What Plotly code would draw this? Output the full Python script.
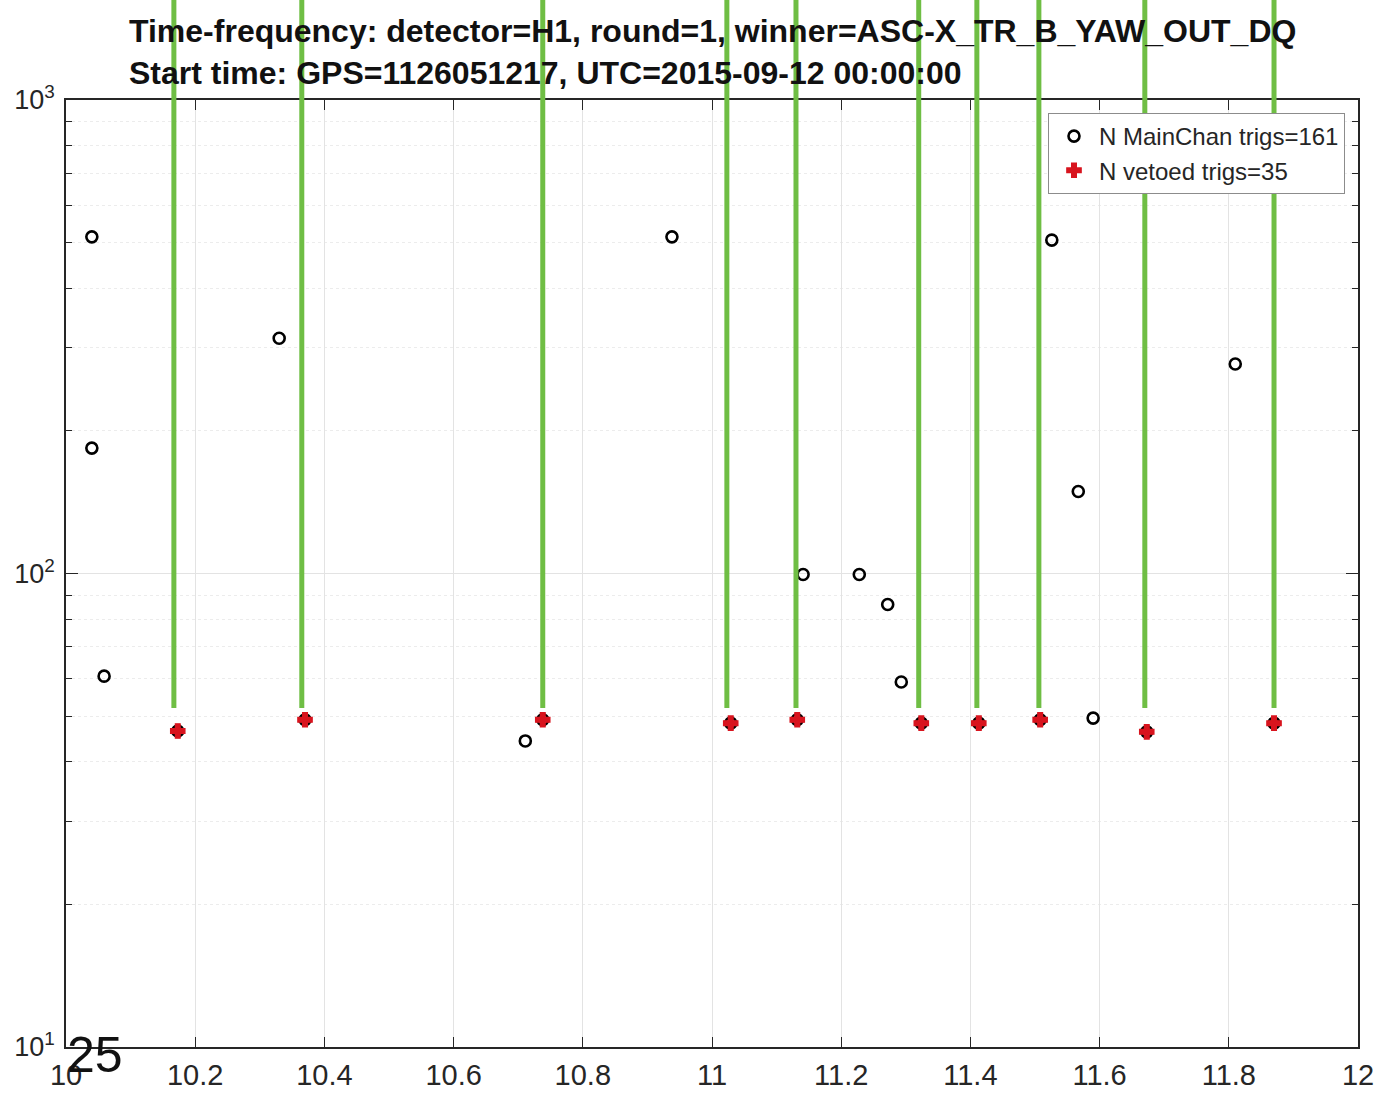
import plotly.graph_objects as go

# ---------------- data ----------------
main_x = [10.040, 10.040, 10.059, 10.330, 10.711, 10.938, 11.141, 11.228, 11.272, 11.293,
          11.526, 11.567, 11.590, 11.810]
main_y = [514, 184, 60.7, 314, 44.3, 514, 99.5, 99.5, 86.0, 59.0, 506, 149, 49.5, 277]

vetoed_x = [10.173, 10.370, 10.738, 11.029, 11.132, 11.324, 11.413, 11.508, 11.673, 11.870]
vetoed_y = [46.5, 49.1, 49.1, 48.3, 49.1, 48.3, 48.3, 49.1, 46.3, 48.3]

veto_line_x = [10.167, 10.365, 10.738, 11.023, 11.130, 11.320, 11.410, 11.506, 11.670, 11.870]
veto_line_bottom = [52, 52, 52, 52, 52, 52, 52, 52, 52, 52]
veto_line_top = 1e4

x_ticks = [10, 10.2, 10.4, 10.6, 10.8, 11, 11.2, 11.4, 11.6, 11.8, 12]
x_ticktext = ["10", "10.2", "10.4", "10.6", "10.8", "11", "11.2", "11.4", "11.6", "11.8", "12"]
y_ticks = [10, 100, 1000]
y_ticktext = ["10<sup>1</sup>", "10<sup>2</sup>", "10<sup>3</sup>"]
y_minor = [m * d for d in (10, 100) for m in range(2, 10)]

title_lines = ["Time-frequency: detector=H1, round=1, winner=ASC-X_TR_B_YAW_OUT_DQ",
               "Start time: GPS=1126051217, UTC=2015-09-12 00:00:00"]
legend_main = "N MainChan trigs=161"
legend_veto = "N vetoed trigs=35"

# ---------------- layout geometry ----------------
W, H = 1395, 1096
ML, MR, MT, MB = 66, 37, 0, 49
plot_top_px = 100
paper_h = H - MT - MB
y_dom_top = (paper_h - plot_top_px) / paper_h
# extended log range for overlay axis so its scale matches main y axis
y2_top = 1 + (3 - 1) / y_dom_top

FONT = "Liberation Sans, Arial, Helvetica, sans-serif"
AX = "#262626"

fig = go.Figure()

fig.add_trace(go.Scatter(
    x=main_x + vetoed_x, y=main_y + vetoed_y, mode="markers", name=legend_main,
    marker=dict(symbol="circle-open", size=11, color="black", line=dict(width=2.6, color="black")),
    xaxis="x", yaxis="y", cliponaxis=False,
))
fig.add_trace(go.Scatter(
    x=vetoed_x, y=vetoed_y, mode="markers", name=legend_veto,
    marker=dict(symbol="cross", size=12, color="#d8141e", line=dict(width=1.2, color="#d8141e")),
    xaxis="x", yaxis="y", cliponaxis=False,
))

lx, ly = [], []
for xv, yb in zip(veto_line_x, veto_line_bottom):
    lx += [xv, xv, None]
    ly += [yb, veto_line_top, None]
fig.add_trace(go.Scatter(
    x=lx, y=ly, mode="lines", line=dict(color="#6fbe44", width=5),
    showlegend=False, hoverinfo="skip", xaxis="x2", yaxis="y2",
))

fig.update_layout(
    template="none",
    width=W, height=H,
    margin=dict(l=ML, r=MR, t=MT, b=MB, autoexpand=False),
    paper_bgcolor="white", plot_bgcolor="rgba(0,0,0,0)",
    font=dict(family=FONT, color=AX),
    showlegend=True,
    legend=dict(
        x=(1345 - ML) / (W - ML - MR), y=(paper_h - 113) / paper_h,
        xanchor="right", yanchor="top",
        bgcolor="white", bordercolor="#8c8c8c", borderwidth=1,
        font=dict(size=24, family=FONT, color=AX),
        tracegroupgap=0, itemwidth=40,
    ),
    xaxis=dict(
        domain=[0, 1], range=[10, 12], anchor="y", automargin=False,
        tickvals=x_ticks, ticktext=x_ticktext,
        tickfont=dict(size=29, family=FONT, color=AX),
        ticks="inside", ticklen=10, tickwidth=1.2, tickcolor=AX,
        showline=True, linecolor=AX, linewidth=1.5, mirror="allticks",
        showgrid=True, gridcolor="#e3e3e3", gridwidth=1,
        zeroline=False, ticklabelstandoff=1,
    ),
    yaxis=dict(
        domain=[0, y_dom_top], type="log", range=[1, 3], anchor="x", automargin=False,
        tickvals=y_ticks, ticktext=y_ticktext,
        tickfont=dict(size=27, family=FONT, color=AX),
        ticks="inside", ticklen=12, tickwidth=1.2, tickcolor=AX,
        showline=True, linecolor=AX, linewidth=1.5, mirror="allticks",
        showgrid=True, gridcolor="#e3e3e3", gridwidth=1,
        minor=dict(tickvals=y_minor, ticks="inside", ticklen=6, tickcolor=AX,
                   showgrid=True, gridcolor="#ececec", griddash="dot", gridwidth=1),
        zeroline=False, ticklabelstandoff=4,
    ),
    xaxis2=dict(domain=[0, 1], range=[10, 12], anchor="y2", visible=False,
                showgrid=False, zeroline=False, automargin=False),
    yaxis2=dict(domain=[0, 1], type="log", range=[1, y2_top], anchor="x2", visible=False,
                showgrid=False, zeroline=False, automargin=False),
)

fig.add_annotation(
    xref="paper", yref="paper", x=0.5, y=(paper_h - 52) / paper_h,
    xanchor="center", yanchor="middle", align="left", showarrow=False,
    text="<b>" + title_lines[0] + "</b><br><b>" + title_lines[1] + "</b>",
    font=dict(size=32, family=FONT, color="#111111"),
)
fig.add_annotation(
    xref="paper", yref="paper", x=(95 - ML) / (W - ML - MR), y=(paper_h - 1055) / paper_h,
    xanchor="center", yanchor="middle", showarrow=False,
    text="25", font=dict(size=50, family=FONT, color="#111111"),
)

fig.write_html("out.html", config={"displayModeBar": False},
               post_script="document.body.style.margin='0';")
